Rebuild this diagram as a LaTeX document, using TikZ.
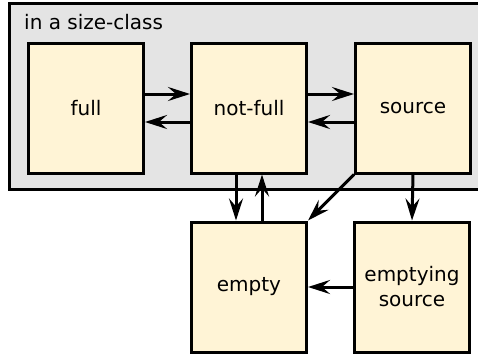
\documentclass[tikz,border=0pt]{standalone}
\usepackage{fontspec}
\setmainfont{DejaVu Sans}
\usetikzlibrary{arrows.meta,positioning}
\definecolor{cream}{RGB}{255,244,214}
\definecolor{classgray}{RGB}{228,228,228}

\begin{document}
\begin{tikzpicture}[
x=1pt,y=-1pt,
>={Stealth[length=22pt,width=14pt,inset=8pt]},
state/.style={
	draw,
	fill=cream,
	line width=3pt,
	minimum width=115pt,
	minimum height=130pt,
	align=center,
	font=\fontsize{20}{25}\selectfont
},
trans/.style={
	->,
	line width=3pt
}
]
\useasboundingbox (0,0) rectangle (478,359);

% the size-class frame runs off the right edge
\draw[fill=classgray,line width=3pt] (9,3) rectangle (495,189);
\node[anchor=base west,inner sep=0pt,font=\fontsize{20}{22}\selectfont] (cls) at (24,29) {in a size-class};

\foreach \x/\n/\l in {86/full/full,249/nf/not-full,413/src/source}
\node[state] (\n) at (\x,108) {\l};

\node[state] (empty) at (249,287) {empty};
\node[state] (esrc) at (412,287) {emptying\\source};

\draw[trans] ([yshift=14pt]full.east) -- ([yshift=14pt]nf.west);
\draw[trans] ([yshift=-14pt]nf.west) -- ([yshift=-14pt]full.east);
\draw[trans] ([yshift=14pt]nf.east) -- ([yshift=14pt]src.west);
\draw[trans] ([yshift=-14pt]src.west) -- ([yshift=-14pt]nf.east);
\draw[trans] ([xshift=-13pt]nf.south) -- ([xshift=-13pt]empty.north);
\draw[trans] ([xshift=13pt]empty.north) -- ([xshift=13pt]nf.south);
\draw[trans] (src.south west) -- (empty.north east);
\draw[trans] (src.south) -- (esrc.north);
\draw[trans] (esrc.west) -- (empty.east);
\end{tikzpicture}
\end{document}
